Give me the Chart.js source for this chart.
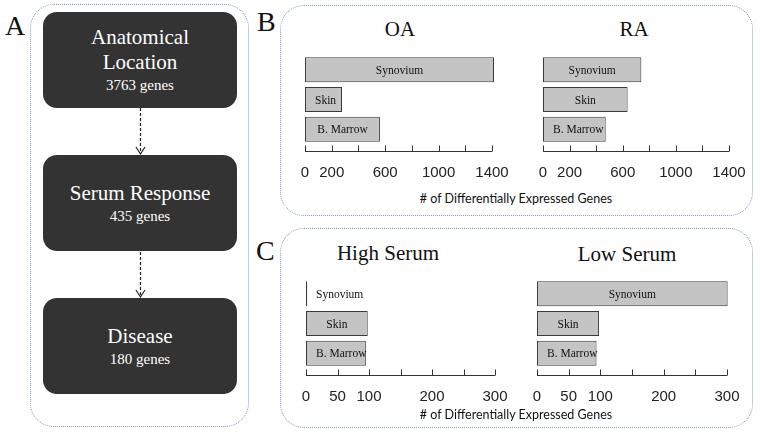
<!DOCTYPE html>
<html>
<head>
<meta charset="utf-8">
<script src="https://cdn.jsdelivr.net/npm/chart.js@4.4.1/dist/chart.umd.min.js"></script>
<style>
  body { margin: 0; background: #fff; }
  #wrap { position: relative; width: 760px; height: 434px; overflow: hidden; font-family: "Liberation Serif", serif; }
  .frame { position: absolute; border: 1px dotted #7f9cc4; border-radius: 24px; box-sizing: border-box; }
  .letter { position: absolute; font-size: 28px; line-height: 28px; color: #111; }
  .title { position: absolute; font-size: 21px; line-height: 21px; color: #111; text-align: center; width: 160px; }
  .axt { position: absolute; font-family: Lato, sans-serif; font-size: 12.5px; color: #111; text-align: center; width: 300px; }
  .box { position: absolute; left: 43px; width: 194px; height: 96px; background: #333333; border-radius: 14px;
         color: #fff; display: flex; flex-direction: column; justify-content: center; align-items: center; }
  .box .big { font-size: 21px; line-height: 25px; }
  .box .small { font-size: 15px; line-height: 20px; }
  canvas { position: absolute; }
</style>
</head>
<body>
<div id="wrap">
  <!-- panel A -->
  <div class="frame" style="left:30px;top:4px;width:219px;height:423px;"></div>
  <div class="letter" style="left:5px;top:12px;">A</div>
  <div class="box" style="top:12px;"><div class="big">Anatomical</div><div class="big">Location</div><div class="small">3763 genes</div></div>
  <div class="box" style="top:155px;"><div class="big">Serum Response</div><div class="small">435 genes</div></div>
  <div class="box" style="top:298px;"><div class="big">Disease</div><div class="small">180 genes</div></div>
  <svg style="position:absolute;left:0;top:0" width="260" height="434">
    <g stroke="#222" stroke-width="1.2" fill="none">
      <line x1="140.5" y1="108" x2="140.5" y2="154" stroke-dasharray="3,2"/>
      <polyline points="136,147 140.5,154 145,147"/>
      <line x1="140.5" y1="252" x2="140.5" y2="297" stroke-dasharray="3,2"/>
      <polyline points="136,290 140.5,297 145,290"/>
    </g>
  </svg>

  <!-- panel B -->
  <div class="frame" style="left:280px;top:5px;width:473px;height:211px;"></div>
  <div class="letter" style="left:257px;top:8px;">B</div>
  <div class="title" style="left:320px;top:19px;">OA</div>
  <div class="title" style="left:554px;top:19px;">RA</div>
  <canvas id="oa" width="262" height="146" style="left:275px;top:44px;"></canvas>
  <canvas id="ra" width="261" height="146" style="left:513px;top:44px;"></canvas>
  <div class="axt" style="left:366px;top:191px;"># of Differentially Expressed Genes</div>

  <!-- panel C -->
  <div class="frame" style="left:280px;top:228px;width:473px;height:200px;"></div>
  <div class="letter" style="left:256px;top:237px;">C</div>
  <div class="title" style="left:308px;top:243px;">High Serum</div>
  <div class="title" style="left:547px;top:244px;">Low Serum</div>
  <canvas id="high" width="264" height="146" style="left:276px;top:268px;"></canvas>
  <canvas id="low" width="265" height="146" style="left:507px;top:268px;"></canvas>
  <div class="axt" style="left:366px;top:407px;"># of Differentially Expressed Genes</div>
</div>

<script>
// data
const categories = ['Synovium', 'Skin', 'B. Marrow'];
const oaValues = [1415, 277, 561];
const raValues = [740, 637, 472];
const highSerumValues = [2, 98, 95];
const lowSerumValues = [301, 98, 94];
const bTickLabels = [0, 200, 600, 1000, 1400];
const cTickLabels = [0, 50, 100, 200, 300];

// text inside each bar, pushed right when the bar is too short for it
const barLabels = {
  id: 'barLabels',
  afterDatasetsDraw(chart) {
    const ctx = chart.ctx;
    ctx.save();
    ctx.font = '11.5px "Liberation Serif"';
    ctx.fillStyle = '#111';
    ctx.textAlign = 'center';
    ctx.textBaseline = 'middle';
    chart.getDatasetMeta(0).data.forEach((bar, i) => {
      const label = chart.data.labels[i];
      const w = ctx.measureText(label).width;
      const x = Math.max((bar.base + bar.x) / 2, bar.base + w / 2 + 10);
      ctx.fillText(label, x, bar.y + 1);
    });
    ctx.restore();
  }
};

// axis line with short ticks pointing up
const upTicks = {
  id: 'upTicks',
  afterDraw(chart) {
    const ctx = chart.ctx;
    const xs = chart.scales.x;
    const y = Math.round(chart.chartArea.bottom + 7) + 0.5;
    ctx.save();
    ctx.strokeStyle = '#333';
    ctx.lineWidth = 1;
    ctx.beginPath();
    ctx.moveTo(xs.getPixelForValue(xs.min), y);
    ctx.lineTo(xs.getPixelForValue(xs.max), y);
    xs.ticks.forEach(t => {
      const px = Math.round(xs.getPixelForValue(t.value)) + 0.5;
      ctx.moveTo(px, y);
      ctx.lineTo(px, y - 6);
    });
    ctx.stroke();
    ctx.restore();
  }
};

function makeChart(id, values, max, step, tickLabels) {
  return new Chart(document.getElementById(id), {
    type: 'bar',
    data: {
      labels: categories,
      datasets: [{
        data: values,
        backgroundColor: '#c4c4c4',
        borderColor: '#3a3a3a',
        borderWidth: 1,
        borderSkipped: false,
        categoryPercentage: 1,
        barPercentage: 0.84,
        clip: false
      }]
    },
    options: {
      indexAxis: 'y',
      responsive: false,
      animation: false,
      devicePixelRatio: 1,
      layout: { padding: { left: 30, right: 45, top: 11, bottom: 0 } },
      plugins: { legend: { display: false }, tooltip: { enabled: false } },
      scales: {
        y: { display: false },
        x: {
          min: 0,
          max: max,
          grid: { display: false },
          border: { display: false },
          afterFit: s => { s.height = 46; },
          ticks: {
            stepSize: step,
            autoSkip: false,
            maxRotation: 0,
            padding: 12,
            color: '#222',
            font: { family: '"Liberation Sans"', size: 15 },
            callback: v => tickLabels.includes(v) ? String(v) : ''
          }
        }
      }
    },
    plugins: [barLabels, upTicks]
  });
}

Promise.all([
  document.fonts.load('12px "Liberation Serif"'),
  document.fonts.load('15px "Liberation Sans"')
]).catch(() => {}).then(() => {
  makeChart('oa', oaValues, 1400, 200, bTickLabels);
  makeChart('ra', raValues, 1400, 200, bTickLabels);
  makeChart('high', highSerumValues, 300, 50, cTickLabels);
  makeChart('low', lowSerumValues, 300, 50, cTickLabels);
});
</script>
</body>
</html>
